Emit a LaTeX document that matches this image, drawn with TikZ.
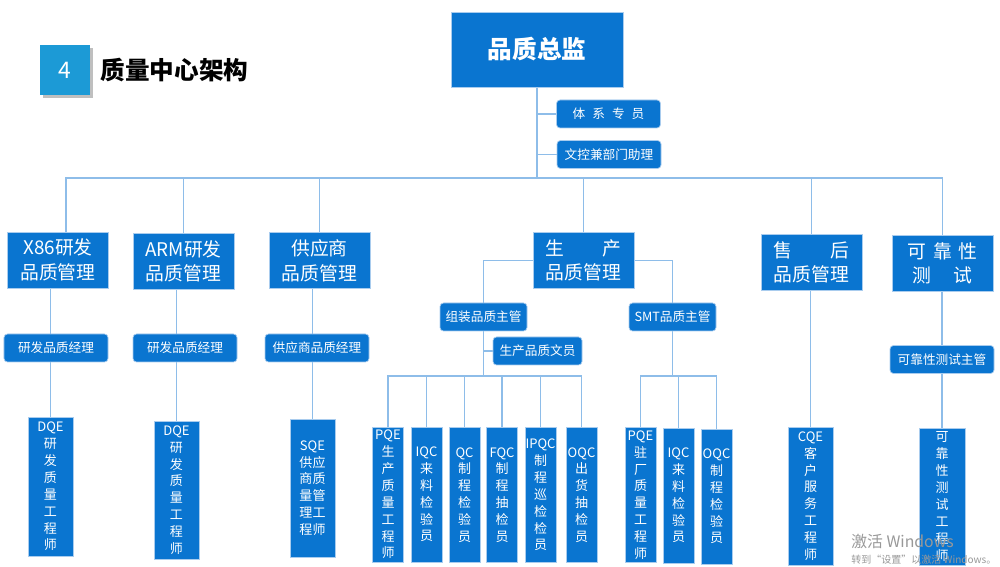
\documentclass[tikz,border=0pt]{standalone}
\usepackage{fontspec}
\setmainfont{Noto Sans CJK SC}
\usetikzlibrary{positioning, backgrounds}
\definecolor{boxBlue}{HTML}{0A75D0}
\definecolor{tagBlue}{HTML}{1C9AD6}
\definecolor{lineBlue}{HTML}{8EBDE9}
\definecolor{edgeBlue}{HTML}{A9CCEE}

\tikzset{
  unit/.style={fill=boxBlue, draw=edgeBlue, line width=0.4pt, text=white, inner sep=0pt, align=center},
  head/.style={unit, minimum width=34.4mm, minimum height=15mm, font=\fontsize{14}{16}\selectfont\bfseries},
  dept/.style={unit, minimum width=20.2mm, minimum height=11.2mm, font=\fontsize{10.7}{14}\selectfont},
  mgr/.style={unit, rounded corners=2pt, minimum width=20.8mm, minimum height=5.6mm, font=\fontsize{7.2}{8}\selectfont},
  post/.style={unit, minimum width=6.2mm, minimum height=27mm, font=\fontsize{7.4}{9.6}\selectfont},
  link/.style={draw=lineBlue, line width=1pt}
}

\begin{document}
\begin{tikzpicture}[x=0.2mm, y=-0.2mm]
    \useasboundingbox (0,0) rectangle (1000,567);

    % title
    \node[fill=tagBlue, text=white, minimum size=10mm, inner sep=0pt, font=\fontsize{13}{15}\selectfont] (num) at (65,70) {4};
    \node[right=2mm of num, inner sep=0pt, font=\fontsize{14}{16}\selectfont\bfseries] (ttl) {质量中心架构};

    % top
    \node[head] (zj) at (537,49.5) {品质总监};
    \node[mgr] (tx) at (608.5,114) {体\hspace{4pt}系\hspace{4pt}专\hspace{4pt}员};
    \node[mgr] (wk) at (609,154.5) {文控兼部门助理};

    % departments
    \node[dept] (x86) at (58,260) {X86研发\\品质管理};
    \node[dept] (arm) at (183.5,261.5) {ARM研发\\品质管理};
    \node[dept] (gys) at (319.5,260.5) {供应商\\品质管理};
    \node[dept] (sc) at (583.5,260.5) {生\hspace{2em}产\\品质管理};
    \node[dept] (sh) at (811.5,262.5) {售\hspace{2em}后\\品质管理};
    \node[dept] (kk) at (942.5,263.5) {可\hspace{0.35em}靠\hspace{0.35em}性\\测\hspace{1.2em}试};

    % managers
    \node[mgr] (m1) at (56,348) {研发品质经理};
    \node[mgr] (m2) at (185,348) {研发品质经理};
    \node[mgr] (m3) at (317,348) {供应商品质经理};
    \node[mgr, minimum width=17.4mm] (zz) at (483.5,317) {组装品质主管};
    \node[mgr, minimum width=17.4mm] (smt) at (672.5,317) {SMT品质主管};
    \node[mgr, minimum width=17.8mm] (wy) at (537.5,351) {生产品质文员};
    \node[mgr] (kzg) at (942,359.5) {可靠性测试主管};

    % engineers
    \node[post, minimum width=9mm, minimum height=27.8mm] (dqe1) at (50.5,486.5) {DQE\\研\\发\\质\\量\\工\\程\\师};
    \node[post, minimum width=9mm, minimum height=27.6mm] (dqe2) at (176.5,490) {DQE\\研\\发\\质\\量\\工\\程\\师};
    \node[post, minimum width=9mm, minimum height=27.6mm] (sqe) at (312.5,488) {SQE\\供应\\商质\\量管\\理工\\程师};
    \node[post] (pqe1) at (388,494.5) {PQE\\生\\产\\质\\量\\工\\程\\师};
    \node[post] (iqc1) at (426.5,494.5) {IQC\\来\\料\\检\\验\\员};
    \node[post] (qc1) at (464.5,495) {QC\\制\\程\\检\\验\\员};
    \node[post] (fqc1) at (502,495) {FQC\\制\\程\\抽\\检\\员};
    \node[post] (ipqc1) at (540.5,495) {IPQC\\制\\程\\巡\\检\\检\\员};
    \node[post] (oqc1) at (581.5,495) {OQC\\出\\货\\抽\\检\\员};
    \node[post] (pqe2) at (640.5,495) {PQE\\驻\\厂\\质\\量\\工\\程\\师};
    \node[post] (iqc2) at (678.5,495.5) {IQC\\来\\料\\检\\验\\员};
    \node[post] (oqc2) at (716.5,496.5) {OQC\\制\\程\\检\\验\\员};
    \node[post, minimum width=9mm, minimum height=27.6mm] (cqe) at (810.5,496) {CQE\\客\\户\\服\\务\\工\\程\\师};
    \node[post, minimum width=9.2mm, minimum height=27.4mm] (kgcs) at (942,496.5) {可\\靠\\性\\测\\试\\工\\程\\师};

    \begin{scope}[on background layer]
        \fill[white] (0,0) rectangle (1000,567);
        \fill[black!25] ([shift={(0.6mm,-0.6mm)}]num.south west) rectangle ([shift={(0.6mm,-0.6mm)}]num.north east);
        \coordinate (bus) at (537,178);
        \draw[link] (zj.south) -- (bus);
        \draw[link] (tx.west) -- (tx.west -| zj.south);
        \draw[link] (wk.west) -- (wk.west -| zj.south);
        \draw[link] ([xshift=1.6mm]x86.north) |- (bus) -| (kk.north);
        \foreach \n in {arm,gys,sc,sh}
            \draw[link] (\n.north) -- (\n.north |- bus);
        \draw[link] (dqe1.north |- x86.south) -- (dqe1.north);
        \draw[link] (dqe2.north |- arm.south) -- (dqe2.north);
        \draw[link] (sqe.north |- gys.south) -- (sqe.north);
        \draw[link] (cqe.north |- sh.south) -- (cqe.north);
        \draw[link] (kgcs.north |- kk.south) -- (kgcs.north);
        % production branch
        \draw[link] (zz.north) |- (sc.west);
        \draw[link] (smt.north) |- (sc.east);
        \coordinate (b1) at (483.5,376);
        \coordinate (b2) at (672.5,376);
        \draw[link] (zz.south) -- (b1);
        \draw[link] (wy.west) -- (wy.west -| zz.south);
        \draw[link] (pqe1.north) |- (b1) -| (oqc1.north);
        \foreach \n in {iqc1,qc1,fqc1,ipqc1}
            \draw[link] (\n.north) -- (\n.north |- b1);
        \draw[link] (smt.south) -- (b2);
        \draw[link] (pqe2.north) |- (b2) -| (oqc2.north);
        \draw[link] (iqc2.north) -- (iqc2.north |- b2);
    \end{scope}

    % watermark
    \node[anchor=west, inner sep=0pt, text=black!40, font=\fontsize{9}{10}\selectfont] (wm1) at (851,541) {激活 Windows};
    \node[anchor=west, inner sep=0pt, text=black!40, font=\fontsize{5.7}{7}\selectfont] (wm2) at (851,560) {转到“设置”以激活 Windows。};
\end{tikzpicture}
\end{document}
